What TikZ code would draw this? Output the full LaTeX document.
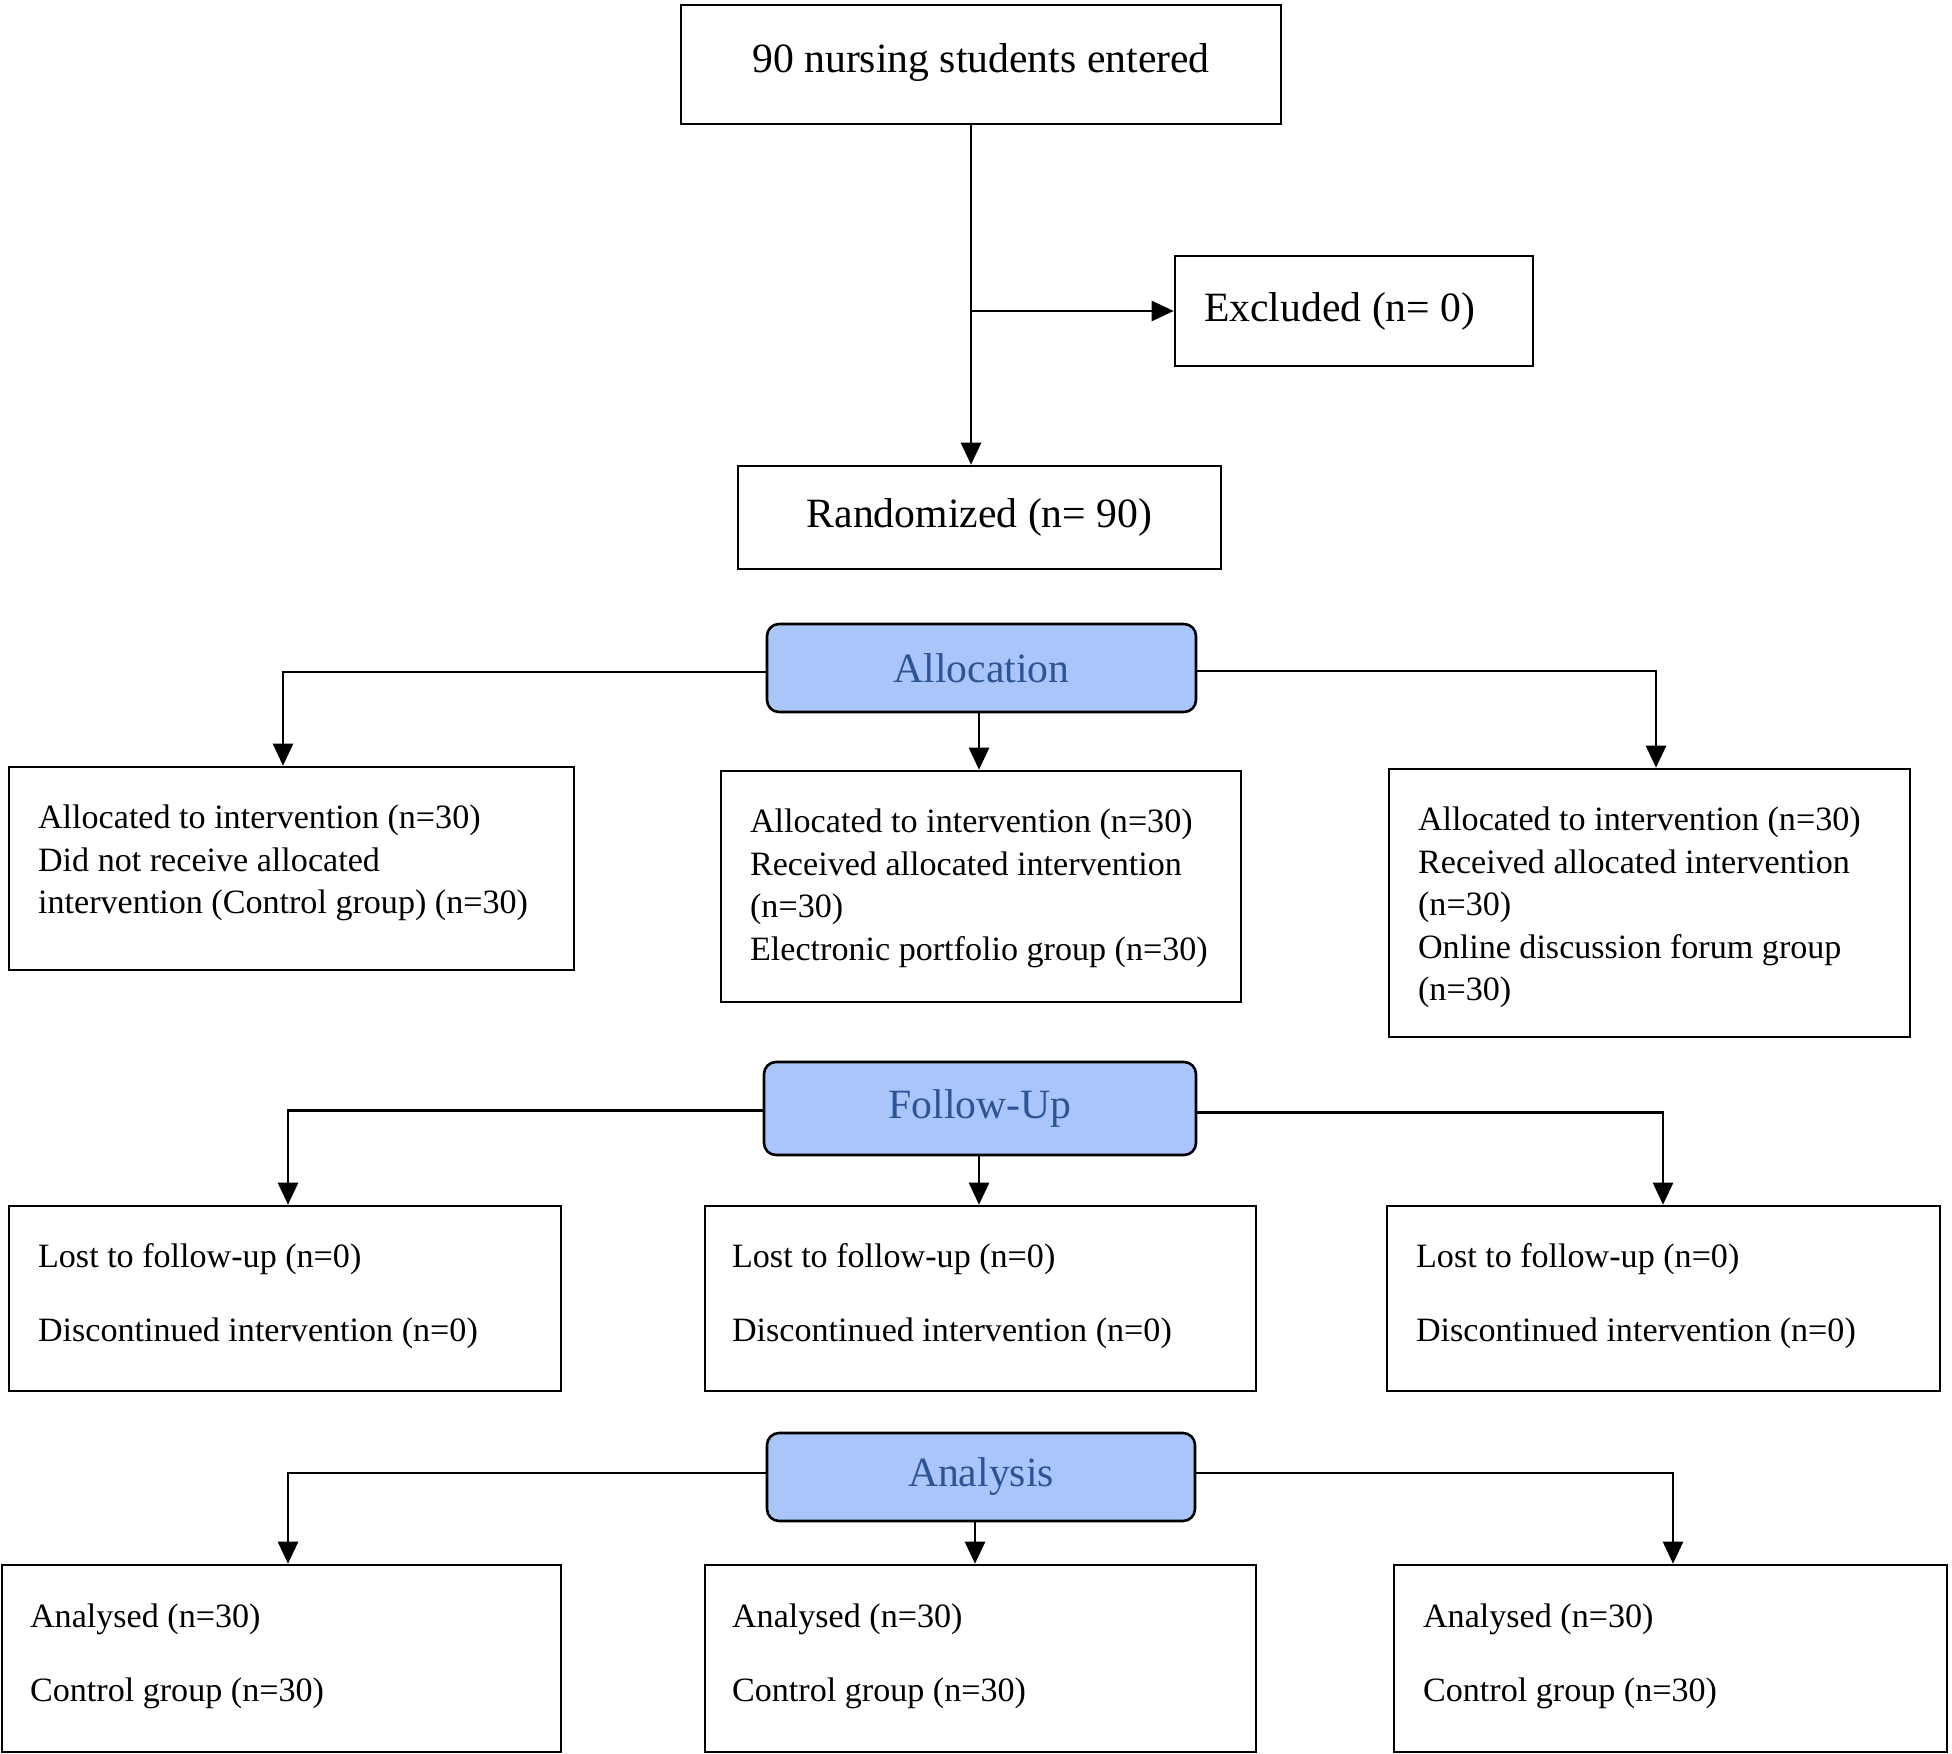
\documentclass[tikz,border=0pt]{standalone}
\usepackage{fontspec}
\setmainfont{Liberation Serif}
\usetikzlibrary{arrows.meta,calc,fit}
\definecolor{phasefill}{RGB}{169,197,250}
\definecolor{phasetext}{RGB}{47,84,150}
\newcommand\bigfnt{\fontsize{20.85pt}{25pt}\selectfont}
\newcommand\smallfnt{\fontsize{17.05pt}{21.25pt}\selectfont}
\tikzset{
  box/.style={draw=black, line width=1.3pt, inner sep=0pt, fill=white},
  phase/.style={draw=black, line width=1.3pt, rounded corners=6pt, fill=phasefill, inner sep=0pt},
  bigtxt/.style={font=\bigfnt, inner sep=0pt},
  phasetxt/.style={font=\bigfnt, inner sep=0pt, text=phasetext},
  smalltxt/.style={font=\smallfnt, inner sep=0pt, align=left, anchor=north west},
  arr/.style={line width=1.3pt, -{Triangle[length=11pt,width=10pt]}},
}
\begin{document}
\begin{tikzpicture}[x=0.5pt,y=-0.5pt]
\useasboundingbox (0,0) rectangle (1952,1754);
% boxes
\node[box, fit={(681,5) (1281,124)}] (top) {};
\node[bigtxt] (topt) at ($(top.center)+(0,-2)$) {90 nursing students entered};
\node[box, fit={(1175,256) (1533,366)}] (excl) {};
\node[bigtxt, anchor=west] (exclt) at ($(excl.west)+(30,0)$) {Excluded (n= 0)};
\node[box, fit={(738,466) (1221,569)}] (rand) {};
\node[bigtxt] (randt) at (rand.center) {Randomized (n= 90)};
\node[phase, fit={(767,624) (1196,712)}] (alloc) {};
\node[phasetxt] (allt) at (alloc.center) {Allocation};

\node[box, fit={(9,767) (574,970)}] (L1) {};
\node[box, fit={(721,771) (1241,1002)}] (M1) {};
\node[box, fit={(1389,769) (1910,1037)}] (R1) {};

\node[phase, fit={(764,1062) (1196,1155)}] (follow) {};
\node[phasetxt] (follt) at (follow.center) {Follow-Up};

\node[box, fit={(9,1206) (561,1391)}] (L2) {};
\node[box, fit={(705,1206) (1256,1391)}] (M2) {};
\node[box, fit={(1387,1206) (1940,1391)}] (R2) {};

\node[phase, fit={(767,1433) (1195,1521)}] (anal) {};
\node[phasetxt] (analt) at (anal.center) {Analysis};

\node[box, fit={(2,1565) (561,1752)}] (L3) {};
\node[box, fit={(705,1565) (1256,1752)}] (M3) {};
\node[box, fit={(1394,1565) (1947,1752)}] (R3) {};

% texts
\node[smalltxt] (L1t) at ($(L1.north west)+(30,33)$) {\strut Allocated to intervention (n=30)\\Did not receive allocated\\intervention (Control group) (n=30)};
\node[smalltxt] (M1t) at ($(M1.north west)+(30,33)$) {\strut Allocated to intervention (n=30)\\Received allocated intervention\\(n=30)\\Electronic portfolio group (n=30)};
\node[smalltxt] (R1t) at ($(R1.north west)+(30,33)$) {\strut Allocated to intervention (n=30)\\Received allocated intervention\\(n=30)\\Online discussion forum group\\(n=30)};

\node[smalltxt] (L2t) at ($(L2.north west)+(30,33)$) {\strut Lost to follow-up (n=0)\\[15.45pt]Discontinued intervention (n=0)};
\node[smalltxt] (M2t) at ($(M2.north west)+(28,33)$) {\strut Lost to follow-up (n=0)\\[15.45pt]Discontinued intervention (n=0)};
\node[smalltxt] (R2t) at ($(R2.north west)+(30,33)$) {\strut Lost to follow-up (n=0)\\[15.45pt]Discontinued intervention (n=0)};

\node[smalltxt] (L3t) at ($(L3.north west)+(29,34)$) {\strut Analysed (n=30)\\[15.45pt]Control group (n=30)};
\node[smalltxt] (M3t) at ($(M3.north west)+(28,34)$) {\strut Analysed (n=30)\\[15.45pt]Control group (n=30)};
\node[smalltxt] (R3t) at ($(R3.north west)+(30,34)$) {\strut Analysed (n=30)\\[15.45pt]Control group (n=30)};

% connector columns
\coordinate (xa) at (971,0);
\coordinate (aL) at (283,0);
\coordinate (aM) at (979,0);
\coordinate (aR) at (1656,0);
\coordinate (fL) at (288,0);
\coordinate (fM) at (979,0);
\coordinate (fR) at (1663,0);
\coordinate (nL) at (288,0);
\coordinate (nM) at (975,0);
\coordinate (nR) at (1673,0);

% connectors
\draw[arr] (top.south -| xa) -- (rand.north -| xa);
\draw[arr] (excl.west -| xa) -- (excl.west);

\draw[arr] ($(alloc.west)+(0,4)$) -| (L1.north -| aL);
\draw[arr] (alloc.south -| aM) -- (M1.north -| aM);
\draw[arr] ($(alloc.east)+(0,3)$) -| (R1.north -| aR);

\draw[arr] ($(follow.west)+(0,2)$) -| (L2.north -| fL);
\draw[arr] (follow.south -| fM) -- (M2.north -| fM);
\draw[arr] ($(follow.east)+(0,4)$) -| (R2.north -| fR);

\draw[arr] ($(anal.west)+(0,-4)$) -| (L3.north -| nL);
\draw[arr] (anal.south -| nM) -- (M3.north -| nM);
\draw[arr] ($(anal.east)+(0,-4)$) -| (R3.north -| nR);
\end{tikzpicture}
\end{document}
